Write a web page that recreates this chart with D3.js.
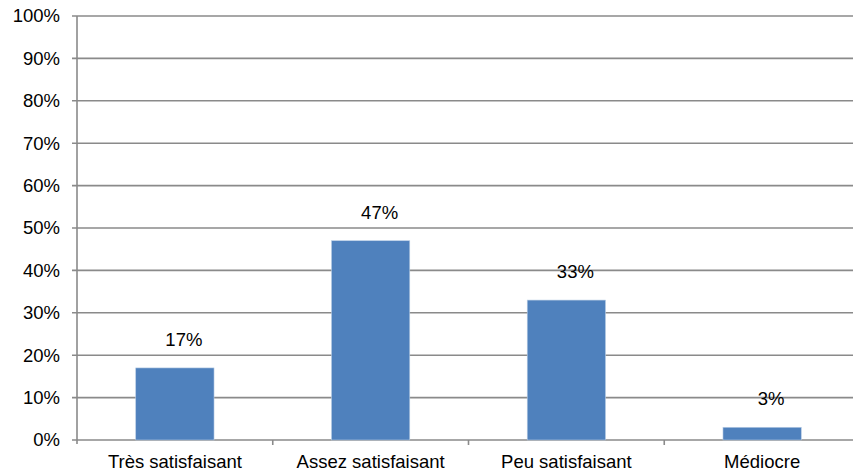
<!DOCTYPE html>
<html lang="fr">
<head>
<meta charset="UTF-8">
<title>Satisfaction</title>
<script src="https://d3js.org/d3.v7.min.js"></script>
<style>
  body { margin: 0; background: #fff; }
  text { font-family: "Liberation Sans", Arial, sans-serif; fill: #000; }
</style>
</head>
<body>
<svg id="chart" width="853" height="475"></svg>
<script>
// data
var categories = ["Très satisfaisant", "Assez satisfaisant", "Peu satisfaisant", "Médiocre"];
var values = [17, 47, 33, 3];
var yTicks = [0, 10, 20, 30, 40, 50, 60, 70, 80, 90, 100];

var svg = d3.select("#chart");
// note: "top" is taken by window.top, so use plotTop etc.
var plotLeft = 77, plotTop = 16, plotBottom = 440, plotRight = 860;
var fontSize = "18.5px";
var gridColor = "#8a8a8a";

var x = d3.scaleBand().domain(categories).range([plotLeft, plotRight]);
var y = d3.scaleLinear().domain([0, 100]).range([plotBottom, plotTop]);

// gridlines
svg.append("g").selectAll("line")
  .data(yTicks)
  .enter().append("line")
    .attr("x1", plotLeft - 5)
    .attr("x2", 853)
    .attr("y1", function(d) { return y(d); })
    .attr("y2", function(d) { return y(d); })
    .attr("stroke", gridColor)
    .attr("stroke-width", 1.6);

// y axis line
svg.append("line")
  .attr("x1", plotLeft).attr("x2", plotLeft)
  .attr("y1", plotTop).attr("y2", plotBottom + 4)
  .attr("stroke", gridColor)
  .attr("stroke-width", 1.6);

// y labels
svg.append("g").selectAll("text")
  .data(yTicks)
  .enter().append("text")
    .attr("x", plotLeft - 17)
    .attr("y", function(d) { return y(d); })
    .attr("dy", "0.35em")
    .attr("text-anchor", "end")
    .style("font-size", fontSize)
    .text(function(d) { return d + "%"; });

// category ticks between bands
svg.append("g").selectAll("line")
  .data(categories.slice(1))
  .enter().append("line")
    .attr("x1", function(d) { return x(d); })
    .attr("x2", function(d) { return x(d); })
    .attr("y1", plotBottom)
    .attr("y2", plotBottom + 5)
    .attr("stroke", gridColor)
    .attr("stroke-width", 1.6);

// bars
var barW = x.bandwidth() * 0.4;
svg.append("g").selectAll("rect")
  .data(values)
  .enter().append("rect")
    .attr("x", function(d, i) { return x(categories[i]) + x.bandwidth() / 2 - barW / 2; })
    .attr("y", function(d) { return y(d); })
    .attr("width", barW)
    .attr("height", function(d) { return plotBottom - y(d); })
    .attr("fill", "#4f81bd")
    .attr("stroke", "#b9cde5")
    .attr("stroke-width", 0.6);

// value labels
svg.append("g").selectAll("text")
  .data(values)
  .enter().append("text")
    .attr("x", function(d, i) { return x(categories[i]) + x.bandwidth() / 2 + 9; })
    .attr("y", function(d) { return y(d) - 22; })
    .attr("text-anchor", "middle")
    .style("font-size", fontSize)
    .text(function(d) { return d + "%"; });

// category labels
svg.append("g").selectAll("text")
  .data(categories)
  .enter().append("text")
    .attr("x", function(d) { return x(d) + x.bandwidth() / 2; })
    .attr("y", plotBottom + 28)
    .attr("text-anchor", "middle")
    .style("font-size", fontSize)
    .text(function(d) { return d; });
</script>
</body>
</html>
